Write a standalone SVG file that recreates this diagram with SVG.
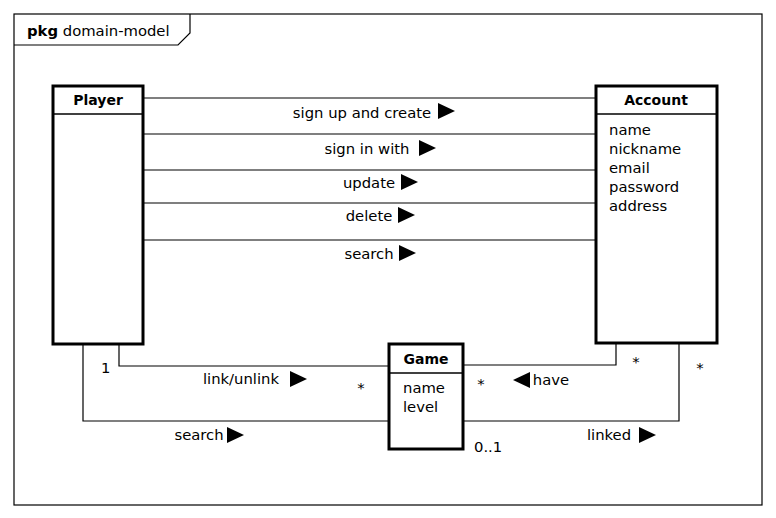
<svg xmlns="http://www.w3.org/2000/svg" width="776" height="518" viewBox="0 0 776 518">
<style>
text{font-family:"DejaVu Sans",sans-serif;font-size:14.8px;fill:#000}
.b{font-weight:bold;font-size:14px}
.box{fill:#fff;stroke:#000;stroke-width:3}
.sep{stroke:#000;stroke-width:1.5}
.ln{fill:none;stroke:#000;stroke-width:1.2}
.tri{fill:#000}
</style>
<rect width="776" height="518" fill="#fff"/>
<g id="frame">
<rect x="14" y="14" width="748" height="491" fill="none" stroke="#000" stroke-width="1.2"/>
<path d="M14 45 H178 L190 33 V14" fill="none" stroke="#000" stroke-width="1.2"/>
<text x="27" y="36" font-size="16px"><tspan font-weight="bold">pkg</tspan> domain-model</text>
</g>
<g id="connectors">
<path class="ln" d="M143 98 H596 M143 134 H596 M143 170 H596 M143 203 H596 M143 240 H596"/>
<path class="ln" d="M119 344 V366 H389"/>
<path class="ln" d="M83 344 V421 H389"/>
<path class="ln" d="M616 343 V365 H463"/>
<path class="ln" d="M679 343 V421 H463"/>
<text x="362" y="118" text-anchor="middle">sign up and create</text>
<path class="tri" d="M438 103 L455 111 L438 119Z"/>
<text x="367" y="154" text-anchor="middle">sign in with</text>
<path class="tri" d="M419 140 L436 148 L419 156Z"/>
<text x="369" y="188" text-anchor="middle">update</text>
<path class="tri" d="M401 174 L418 182 L401 190Z"/>
<text x="369" y="221" text-anchor="middle">delete</text>
<path class="tri" d="M398 207 L415 215 L398 223Z"/>
<text x="369" y="259" text-anchor="middle">search</text>
<path class="tri" d="M399 245 L416 253 L399 261Z"/>
<text x="101" y="373">1</text>
<text x="241" y="384" text-anchor="middle">link/unlink</text>
<path class="tri" d="M290 371 L307 379 L290 387Z"/>
<text x="361" y="393" text-anchor="middle">*</text>
<text x="199" y="440" text-anchor="middle">search</text>
<path class="tri" d="M227 427 L244 435 L227 443Z"/>
<text x="636" y="367" text-anchor="middle">*</text>
<path class="tri" d="M530 372 L513 380 L530 388Z"/>
<text x="551" y="385" text-anchor="middle">have</text>
<text x="481" y="389" text-anchor="middle">*</text>
<text x="700" y="373" text-anchor="middle">*</text>
<text x="609" y="440" text-anchor="middle">linked</text>
<path class="tri" d="M639 427 L656 435 L639 443Z"/>
<text x="474" y="452">0..1</text>
</g>
<g id="player">
<rect class="box" x="53" y="86" width="90" height="258"/>
<line class="sep" x1="53" y1="114" x2="143" y2="114"/>
<text class="b" x="98" y="105" text-anchor="middle">Player</text>
</g>
<g id="account">
<rect class="box" x="596" y="86" width="121" height="257"/>
<line class="sep" x1="596" y1="114" x2="717" y2="114"/>
<text class="b" x="656" y="105" text-anchor="middle">Account</text>
<text x="609" y="135">name</text>
<text x="609" y="154">nickname</text>
<text x="609" y="173">email</text>
<text x="609" y="192">password</text>
<text x="609" y="211">address</text>
</g>
<g id="game">
<rect class="box" x="389" y="344" width="74" height="105"/>
<line class="sep" x1="389" y1="373" x2="463" y2="373"/>
<text class="b" x="426" y="364" text-anchor="middle">Game</text>
<text x="403" y="393">name</text>
<text x="403" y="412">level</text>
</g>
</svg>
